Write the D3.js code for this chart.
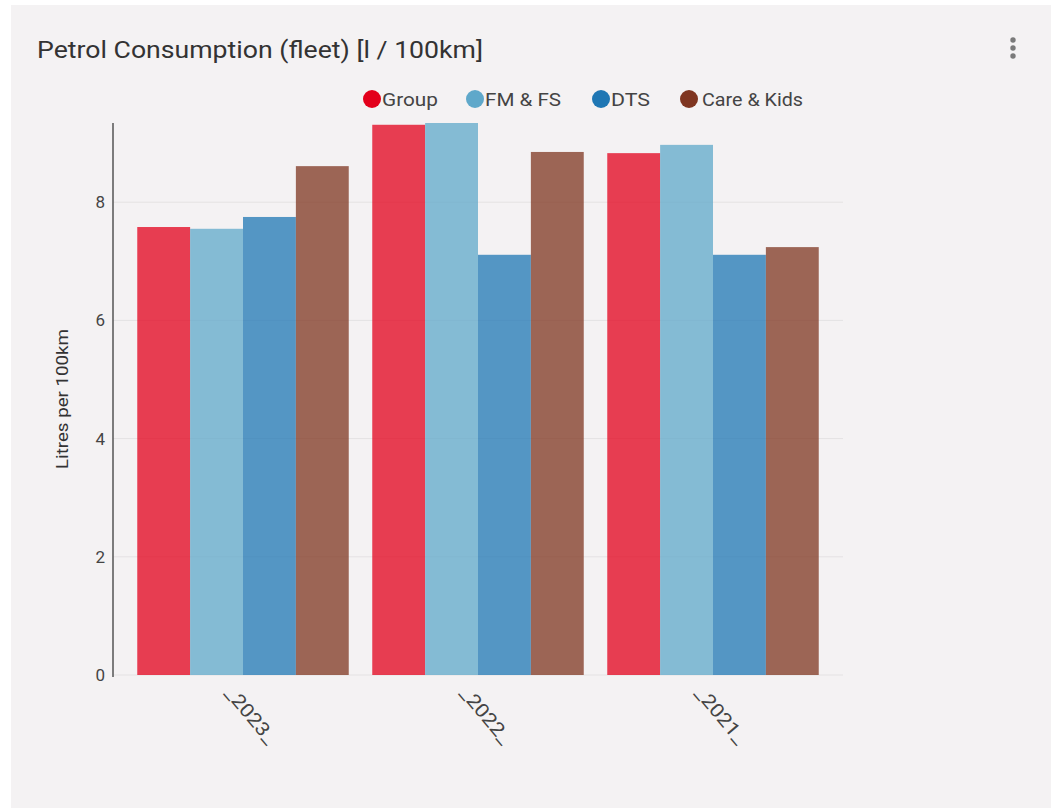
<!DOCTYPE html>
<html>
<head>
<meta charset="utf-8">
<script src="https://cdn.jsdelivr.net/npm/d3@7"></script>
<style>
  html, body { margin: 0; padding: 0; background: #ffffff; }
  svg { display: block; font-family: Roboto, "Noto Sans", sans-serif; }
</style>
</head>
<body>
<svg id="chart" width="1058" height="808"></svg>
<script>
// Fleet petrol consumption by business unit and year
const categories = ["_2023_", "_2022_", "_2021_"];
const seriesNames = ["Group", "FM & FS", "DTS", "Care & Kids"];
const groupValues = [7.58, 9.31, 8.83];
const fmfsValues = [7.55, 9.34, 8.97];
const dtsValues = [7.75, 7.11, 7.11];
const careKidsValues = [8.61, 8.85, 7.24];
const yTicks = [0, 2, 4, 6, 8];
const seriesColors = ["#e3001b", "#5fa8ca", "#1f77b4", "#7f3520"];

const seriesValues = [groupValues, fmfsValues, dtsValues, careKidsValues];

const svg = d3.select("#chart");

// card
svg.append("rect")
  .attr("x", 11).attr("y", 5)
  .attr("width", 1040).attr("height", 803)
  .attr("fill", "#f4f2f3");

// title
svg.append("text")
  .attr("x", 37).attr("y", 58)
  .attr("font-size", 23)
  .attr("textLength", 446)
  .attr("lengthAdjust", "spacingAndGlyphs")
  .attr("fill", "#333")
  .text("Petrol Consumption (fleet) [l / 100km]");

// menu dots
[40, 48, 56].forEach(cy => {
  svg.append("circle").attr("cx", 1013).attr("cy", cy).attr("r", 2.7).attr("fill", "#7a7a7a");
});

// plot geometry
const plotLeft = 113, plotRight = 843, plotTop = 123, plotBottom = 675;

const y = d3.scaleLinear().domain([0, 9.34]).range([plotBottom, plotTop]);
const x0 = d3.scaleBand().domain(categories).range([125.5, 830.5]).paddingInner(0.1).paddingOuter(0.05);
const x1 = d3.scaleBand().domain(seriesNames).range([0, x0.bandwidth()]);

// horizontal gridlines
svg.append("g")
  .selectAll("line")
  .data(yTicks)
  .join("line")
  .attr("x1", plotLeft).attr("x2", plotRight)
  .attr("y1", d => y(d)).attr("y2", d => y(d))
  .attr("stroke", "#e4e2e3")
  .attr("stroke-width", 1);

// bars
const groups = svg.append("g")
  .selectAll("g")
  .data(categories)
  .join("g")
  .attr("transform", d => `translate(${x0(d)},0)`);

groups.selectAll("rect")
  .data((c, ci) => seriesNames.map((s, si) => ({ s, si, v: seriesValues[si][ci] })))
  .join("rect")
  .attr("x", d => x1(d.s))
  .attr("width", x1.bandwidth())
  .attr("y", d => y(d.v))
  .attr("height", d => y(0) - y(d.v))
  .attr("fill", d => seriesColors[d.si])
  .attr("fill-opacity", 0.75);

// y axis
const yAxis = d3.axisLeft(y).tickValues(yTicks).tickSize(0).tickPadding(8).tickFormat(d3.format("d"));
const yG = svg.append("g").attr("transform", `translate(${plotLeft},0)`).call(yAxis);
yG.select(".domain").remove();
yG.selectAll("text").attr("font-size", 17).attr("fill", "#444").attr("font-family", "Roboto, sans-serif");
svg.append("line")
  .attr("x1", plotLeft).attr("x2", plotLeft)
  .attr("y1", plotTop).attr("y2", plotBottom + 2)
  .attr("stroke", "#555").attr("stroke-width", 1.5);

// y title
svg.append("text")
  .attr("transform", "translate(62,399) rotate(-90)")
  .attr("text-anchor", "middle")
  .attr("dy", "0.35em")
  .attr("font-size", 17)
  .attr("textLength", 140)
  .attr("lengthAdjust", "spacingAndGlyphs")
  .attr("fill", "#333")
  .text("Litres per 100km");

// x labels (rotated, starting at the tick)
svg.append("g")
  .selectAll("text")
  .data(categories)
  .join("text")
  .attr("transform", d => `translate(${x0(d) + x0.bandwidth() / 2 - 14},689) rotate(50)`)
  .attr("text-anchor", "start")
  .attr("dy", "0.35em")
  .attr("font-size", 19)
  .attr("textLength", 68)
  .attr("lengthAdjust", "spacingAndGlyphs")
  .attr("fill", "#444")
  .text(d => d);

// legend
const legendX = [372, 475, 601, 689];
const legendTextLen = [56, 76, 39, 101];
const legend = svg.append("g")
  .selectAll("g")
  .data(seriesNames)
  .join("g")
  .attr("transform", (d, i) => `translate(${legendX[i]},99)`);
legend.append("circle")
  .attr("r", 9)
  .attr("fill", (d, i) => seriesColors[i]);
legend.append("text")
  .attr("x", (d, i) => i === 3 ? 13 : 10)
  .attr("dy", "0.35em")
  .attr("font-size", 19)
  .attr("textLength", (d, i) => legendTextLen[i])
  .attr("lengthAdjust", "spacingAndGlyphs")
  .attr("fill", "#444")
  .text(d => d);
</script>
</body>
</html>
